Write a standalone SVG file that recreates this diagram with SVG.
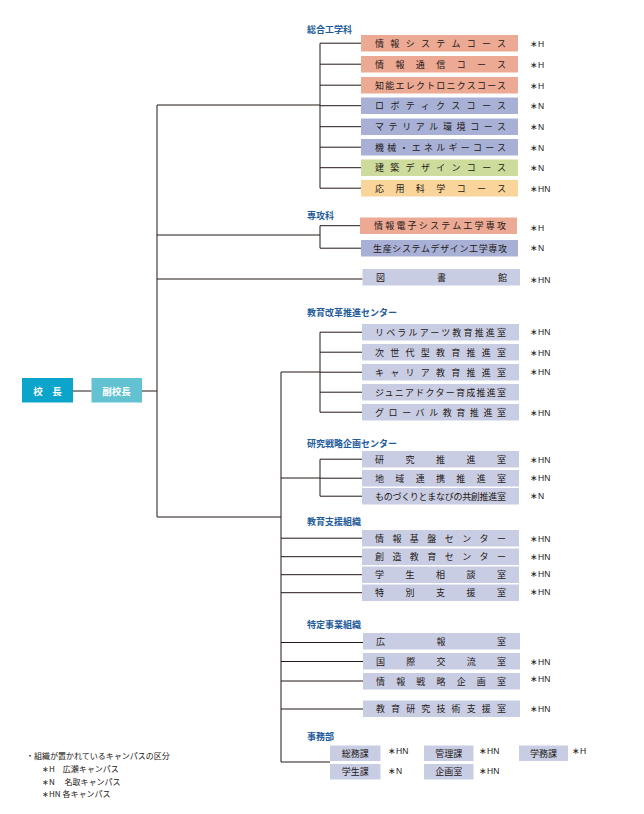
<svg xmlns="http://www.w3.org/2000/svg" width="644" height="814" viewBox="0 0 644 814">
<style>
.bg{fill:#ffffff}
.ln{stroke:#231815;stroke-width:1;fill:none}
.hd{font-family:"Noto Sans CJK JP",sans-serif;font-size:9px;font-weight:bold;fill:#1f5c9b}
.lbl{font-family:"Noto Sans CJK JP",sans-serif;font-size:9px;fill:#231815;dominant-baseline:central}
.cp{font-family:"Liberation Sans","Noto Sans CJK JP",sans-serif;font-size:8.5px;fill:#231815;dominant-baseline:central}
.lg{font-family:"Noto Sans CJK JP",sans-serif;font-size:8px;fill:#231815;dominant-baseline:central}
.top{font-family:"Noto Sans CJK JP",sans-serif;font-size:9.5px;font-weight:bold;fill:#ffffff;dominant-baseline:central;text-anchor:middle}
.s{fill:#eca994}
.b{fill:#a8b1d5}
.g{fill:#cddb9c}
.o{fill:#f9d49b}
.l{fill:#c9cde3}
</style>
<rect class="bg" x="0" y="0" width="644" height="814"/>

<g id="connectors">
<line class="ln" x1="73" y1="391" x2="91.5" y2="391"/>
<line class="ln" x1="142" y1="391" x2="157" y2="391"/>
<line class="ln" x1="157" y1="105" x2="157" y2="517"/>
<line class="ln" x1="157" y1="105" x2="320" y2="105"/>
<line class="ln" x1="157" y1="235" x2="320" y2="235"/>
<line class="ln" x1="157" y1="279" x2="362.5" y2="279"/>
<line class="ln" x1="157" y1="517" x2="281" y2="517"/>
<!-- 総合工学科 bracket -->
<line class="ln" x1="320" y1="43.2" x2="320" y2="188.2"/>
<line class="ln" x1="320" y1="43.2" x2="361" y2="43.2"/>
<line class="ln" x1="320" y1="64.2" x2="361" y2="64.2"/>
<line class="ln" x1="320" y1="85.2" x2="361" y2="85.2"/>
<line class="ln" x1="320" y1="105.7" x2="361" y2="105.7"/>
<line class="ln" x1="320" y1="126.7" x2="361" y2="126.7"/>
<line class="ln" x1="320" y1="147.2" x2="361" y2="147.2"/>
<line class="ln" x1="320" y1="167.7" x2="361" y2="167.7"/>
<line class="ln" x1="320" y1="188.2" x2="361" y2="188.2"/>
<!-- 専攻科 bracket -->
<line class="ln" x1="320" y1="225.7" x2="320" y2="248.2"/>
<line class="ln" x1="320" y1="225.7" x2="360" y2="225.7"/>
<line class="ln" x1="320" y1="248.2" x2="361" y2="248.2"/>
<!-- trunk 2 -->
<line class="ln" x1="281" y1="372" x2="281" y2="762"/>
<line class="ln" x1="281" y1="372" x2="320" y2="372"/>
<line class="ln" x1="320" y1="332.2" x2="320" y2="412.2"/>
<line class="ln" x1="320" y1="332.2" x2="362" y2="332.2"/>
<line class="ln" x1="320" y1="352.2" x2="362" y2="352.2"/>
<line class="ln" x1="320" y1="372.2" x2="362" y2="372.2"/>
<line class="ln" x1="320" y1="392.2" x2="362" y2="392.2"/>
<line class="ln" x1="320" y1="412.2" x2="362" y2="412.2"/>
<line class="ln" x1="281" y1="478" x2="320" y2="478"/>
<line class="ln" x1="320" y1="459.2" x2="320" y2="496.2"/>
<line class="ln" x1="320" y1="459.2" x2="362" y2="459.2"/>
<line class="ln" x1="320" y1="478.2" x2="362" y2="478.2"/>
<line class="ln" x1="320" y1="496.2" x2="362" y2="496.2"/>
<line class="ln" x1="281" y1="538.2" x2="362" y2="538.2"/>
<line class="ln" x1="281" y1="556.7" x2="362" y2="556.7"/>
<line class="ln" x1="281" y1="574.7" x2="362" y2="574.7"/>
<line class="ln" x1="281" y1="592.7" x2="362" y2="592.7"/>
<line class="ln" x1="281" y1="642.5" x2="363" y2="642.5"/>
<line class="ln" x1="281" y1="661.5" x2="363" y2="661.5"/>
<line class="ln" x1="281" y1="681" x2="363" y2="681"/>
<line class="ln" x1="281" y1="709" x2="363" y2="709"/>
<line class="ln" x1="281" y1="762" x2="330" y2="762"/>
</g>

<g id="kocho"><rect x="22" y="378" width="51" height="24.5" fill="#0ba4cb"/><text class="top" x="47.5" y="390.5">校　長</text></g>
<g id="fukukocho"><rect x="91.5" y="378" width="50.5" height="24.5" fill="#62c2d1"/><text class="top" x="116.5" y="390.5">副校長</text></g>

<g id="sogo">
<text class="hd" x="307" y="32.5">総合工学科</text>
<g id="sogo-1"><rect class="s" x="361" y="35" width="157" height="16.5"/><text class="lbl" x="375" y="43.2" textLength="131" lengthAdjust="spacing">情報システムコース</text><text class="cp" x="530" y="44">∗H</text></g>
<g id="sogo-2"><rect class="s" x="361" y="56" width="157" height="16.5"/><text class="lbl" x="375" y="64.2" textLength="131" lengthAdjust="spacing">情報通信コース</text><text class="cp" x="530" y="65">∗H</text></g>
<g id="sogo-3"><rect class="s" x="361" y="77" width="157" height="16.5"/><text class="lbl" x="375" y="85.2" textLength="131" lengthAdjust="spacing">知能エレクトロニクスコース</text><text class="cp" x="530" y="86">∗H</text></g>
<g id="sogo-4"><rect class="b" x="361" y="97.5" width="157" height="16.5"/><text class="lbl" x="375" y="105.7" textLength="131" lengthAdjust="spacing">ロボティクスコース</text><text class="cp" x="530" y="106">∗N</text></g>
<g id="sogo-5"><rect class="b" x="361" y="118.5" width="157" height="16.5"/><text class="lbl" x="375" y="126.7" textLength="131" lengthAdjust="spacing">マテリアル環境コース</text><text class="cp" x="530" y="127">∗N</text></g>
<g id="sogo-6"><rect class="b" x="361" y="139" width="157" height="16.5"/><text class="lbl" x="375" y="147.2" textLength="131" lengthAdjust="spacing">機械・エネルギーコース</text><text class="cp" x="530" y="147.5">∗N</text></g>
<g id="sogo-7"><rect class="g" x="361" y="159.5" width="157" height="16.5"/><text class="lbl" x="375" y="167.7" textLength="131" lengthAdjust="spacing">建築デザインコース</text><text class="cp" x="530" y="168">∗N</text></g>
<g id="sogo-8"><rect class="o" x="361" y="180" width="157" height="16.5"/><text class="lbl" x="375" y="188.2" textLength="131" lengthAdjust="spacing">応用科学コース</text><text class="cp" x="530" y="188.5">∗HN</text></g>
</g>

<g id="senkoka">
<text class="hd" x="307" y="218.5">専攻科</text>
<g id="senkoka-1"><rect class="s" x="360" y="217.5" width="157" height="16.5"/><text class="lbl" x="374" y="225.7" textLength="132" lengthAdjust="spacing">情報電子システム工学専攻</text><text class="cp" x="530" y="228">∗H</text></g>
<g id="senkoka-2"><rect class="b" x="361" y="240" width="157" height="16.5"/><text class="lbl" x="373" y="248.2" textLength="134" lengthAdjust="spacing">生産システムデザイン工学専攻</text><text class="cp" x="530" y="248">∗N</text></g>
</g>

<g id="toshokan"><rect class="l" x="362.5" y="269" width="157.5" height="16.5"/><text class="lbl" x="376" y="277.2" textLength="131" lengthAdjust="spacing">図書館</text><text class="cp" x="530" y="279.5">∗HN</text></g>

<g id="kyoiku-kaikaku">
<text class="hd" x="307" y="316">教育改革推進センター</text>
<g id="kk-1"><rect class="l" x="362" y="324" width="157" height="16.5"/><text class="lbl" x="375" y="332.2" textLength="131" lengthAdjust="spacing">リベラルアーツ教育推進室</text><text class="cp" x="530" y="332">∗HN</text></g>
<g id="kk-2"><rect class="l" x="362" y="344" width="157" height="16.5"/><text class="lbl" x="375" y="352.2" textLength="131" lengthAdjust="spacing">次世代型教育推進室</text><text class="cp" x="530" y="352.5">∗HN</text></g>
<g id="kk-3"><rect class="l" x="362" y="364" width="157" height="16.5"/><text class="lbl" x="375" y="372.2" textLength="131" lengthAdjust="spacing">キャリア教育推進室</text><text class="cp" x="530" y="372">∗HN</text></g>
<g id="kk-4"><rect class="l" x="362" y="384" width="157" height="16.5"/><text class="lbl" x="375" y="392.2" textLength="131" lengthAdjust="spacing">ジュニアドクター育成推進室</text></g>
<g id="kk-5"><rect class="l" x="362" y="404" width="157" height="16.5"/><text class="lbl" x="375" y="412.2" textLength="131" lengthAdjust="spacing">グローバル教育推進室</text><text class="cp" x="530" y="412.5">∗HN</text></g>
</g>

<g id="kenkyu">
<text class="hd" x="307" y="446.5">研究戦略企画センター</text>
<g id="kn-1"><rect class="l" x="362" y="451" width="157" height="16.5"/><text class="lbl" x="375" y="459.2" textLength="131" lengthAdjust="spacing">研究推進室</text><text class="cp" x="530" y="460">∗HN</text></g>
<g id="kn-2"><rect class="l" x="362" y="470" width="157" height="16.5"/><text class="lbl" x="375" y="478.2" textLength="131" lengthAdjust="spacing">地域連携推進室</text><text class="cp" x="530" y="478">∗HN</text></g>
<g id="kn-3"><rect class="l" x="362" y="488" width="157" height="16.5"/><text class="lbl" x="375" y="496.2" textLength="131" lengthAdjust="spacing">ものづくりとまなびの共創推進室</text><text class="cp" x="530" y="495.5">∗N</text></g>
</g>

<g id="shien">
<text class="hd" x="307" y="524.5">教育支援組織</text>
<g id="sh-1"><rect class="l" x="362" y="530" width="157" height="16.5"/><text class="lbl" x="375" y="538.2" textLength="131" lengthAdjust="spacing">情報基盤センター</text><text class="cp" x="530" y="538.5">∗HN</text></g>
<g id="sh-2"><rect class="l" x="362" y="548.5" width="157" height="16.5"/><text class="lbl" x="375" y="556.7" textLength="131" lengthAdjust="spacing">創造教育センター</text><text class="cp" x="530" y="556.5">∗HN</text></g>
<g id="sh-3"><rect class="l" x="362" y="566.5" width="157" height="16.5"/><text class="lbl" x="375" y="574.7" textLength="131" lengthAdjust="spacing">学生相談室</text><text class="cp" x="530" y="573.5">∗HN</text></g>
<g id="sh-4"><rect class="l" x="362" y="584.5" width="157" height="16.5"/><text class="lbl" x="375" y="592.7" textLength="131" lengthAdjust="spacing">特別支援室</text><text class="cp" x="530" y="591.5">∗HN</text></g>
</g>

<g id="tokutei">
<text class="hd" x="307" y="627.5">特定事業組織</text>
<g id="tk-1"><rect class="l" x="363" y="633" width="157" height="16.5"/><text class="lbl" x="376" y="641.2" textLength="130" lengthAdjust="spacing">広報室</text></g>
<g id="tk-2"><rect class="l" x="363" y="653" width="157" height="16.5"/><text class="lbl" x="376" y="661.2" textLength="130" lengthAdjust="spacing">国際交流室</text><text class="cp" x="530" y="661.5">∗HN</text></g>
<g id="tk-3"><rect class="l" x="363" y="673" width="157" height="16.5"/><text class="lbl" x="376" y="681.2" textLength="130" lengthAdjust="spacing">情報戦略企画室</text><text class="cp" x="530" y="678.5">∗HN</text></g>
<g id="tk-4"><rect class="l" x="363" y="700.5" width="157" height="16.5"/><text class="lbl" x="376" y="708.7" textLength="130" lengthAdjust="spacing">教育研究技術支援室</text><text class="cp" x="530" y="709">∗HN</text></g>
</g>

<g id="jimubu">
<text class="hd" x="307" y="739.5">事務部</text>
<g id="jm-1"><rect class="l" x="330" y="745.5" width="50.5" height="15.5"/><text class="lbl" x="355.2" y="753.2" text-anchor="middle">総務課</text><text class="cp" x="388" y="750.7">∗HN</text></g>
<g id="jm-2"><rect class="l" x="424" y="745.5" width="49.5" height="15.5"/><text class="lbl" x="448.7" y="753.2" text-anchor="middle">管理課</text><text class="cp" x="479" y="750.7">∗HN</text></g>
<g id="jm-3"><rect class="l" x="519" y="745.5" width="49" height="15.5"/><text class="lbl" x="543.5" y="753.2" text-anchor="middle">学務課</text><text class="cp" x="572" y="750.7">∗H</text></g>
<g id="jm-4"><rect class="l" x="330" y="764" width="50.5" height="15.5"/><text class="lbl" x="355.2" y="771.7" text-anchor="middle">学生課</text><text class="cp" x="388" y="770.7">∗N</text></g>
<g id="jm-5"><rect class="l" x="424" y="764" width="49.5" height="15.5"/><text class="lbl" x="448.7" y="771.7" text-anchor="middle">企画室</text><text class="cp" x="479" y="770.7">∗HN</text></g>
</g>

<g id="legend">
<text class="lg" x="26" y="755">・組織が置かれているキャンパスの区分</text>
<text class="lg" x="42" y="768">∗H　広瀬キャンパス</text>
<text class="lg" x="42" y="781">∗N　 名取キャンパス</text>
<text class="lg" x="42" y="793">∗HN 各キャンパス</text>
</g>
</svg>
